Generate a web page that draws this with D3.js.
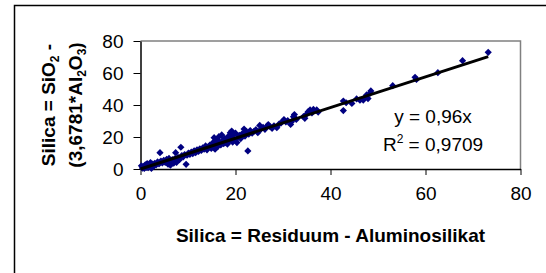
<!DOCTYPE html>
<html>
<head>
<meta charset="utf-8">
<script src="https://cdn.jsdelivr.net/npm/d3@7"></script>
<style>
  html, body { margin: 0; padding: 0; background: #fff; }
  svg { display: block; font-family: "Liberation Sans", Arial, sans-serif; }
</style>
</head>
<body>
<div id="chart"></div>
<script>
// values
var xVals = [
  0.2, 0.4, 0.6, 0.8, 1.0, 1.2, 1.4, 1.6, 1.8, 2.1, 2.3, 2.5, 2.8, 3.0, 3.3, 3.6, 3.9, 4.1, 4.3, 4.6,
  4.9, 5.2, 5.5, 5.8, 6.0, 6.3, 6.5, 6.7, 7.0, 7.2, 7.4, 7.6, 7.9, 8.2, 8.5, 8.7, 9.0, 9.3, 9.6, 9.8,
  10.1, 10.4, 10.7, 11.0, 11.3, 11.6, 11.9, 12.2, 12.5, 12.8, 13.1, 13.4, 13.7, 14.0, 14.3, 14.6, 14.9, 15.1, 15.3, 15.5,
  15.7, 15.9, 16.1, 16.3, 16.5, 16.7, 16.9, 17.1, 17.3, 17.5, 17.7, 17.9, 18.1, 18.3, 18.5, 18.7, 18.9, 19.1, 19.2, 19.4,
  19.6, 19.8, 20.0, 20.3, 20.5, 20.8, 21.1, 21.4, 21.8, 22.0, 22.3, 22.6, 22.8, 23.1, 23.5, 23.9, 24.3, 24.7, 25.1, 25.4,
  25.8, 26.2, 26.6, 26.9, 27.3, 27.7, 28.1, 28.7, 29.2, 29.6, 30.2, 30.6, 31.0, 31.6, 31.8, 32.2, 32.4, 32.8, 34.3, 34.6,
  35.0, 35.3, 35.7, 36.1, 36.4, 37.1, 37.4, 42.7, 42.7, 43.3, 44.5, 45.5, 46.2, 46.9, 47.3, 47.6, 47.9, 48.3, 48.5, 53.1,
  57.8, 58.1, 62.6, 67.8, 73.2
];
var yVals = [
  2.0, 0.6, 1.4, 0.3, 2.6, 1.0, 3.4, 0.8, 2.2, 4.0, 0.4, 3.0, 1.8, 3.6, 2.6, 4.4, 3.2, 10.2, 5.0, 3.8,
  5.4, 4.2, 6.0, 3.0, 6.6, 2.4, 4.6, 5.8, 3.6, 6.4, 10.2, 4.2, 7.2, 5.8, 13.6, 8.4, 7.6, 9.0, 2.9, 8.6,
  10.0, 9.2, 10.6, 9.6, 11.4, 10.2, 12.0, 11.0, 12.6, 11.6, 13.2, 12.4, 14.4, 12.0, 13.8, 15.0, 12.8, 14.4, 16.6, 19.6,
  12.4, 15.6, 18.0, 14.2, 20.2, 16.8, 15.0, 21.3, 17.6, 15.8, 19.0, 16.4, 18.2, 15.6, 20.4, 17.4, 22.6, 19.4, 23.7, 16.8,
  21.6, 18.4, 22.4, 16.5, 19.6, 21.0, 19.0, 22.0, 25.0, 20.6, 23.4, 11.3, 21.8, 24.0, 22.4, 23.6, 24.6, 22.7, 27.2, 25.0,
  26.0, 24.8, 26.6, 27.8, 26.4, 25.4, 27.0, 25.8, 28.2, 28.8, 30.9, 29.4, 30.2, 27.8, 29.6, 32.7, 34.0, 31.0, 32.7, 31.7,
  34.4, 35.8, 36.9, 35.0, 37.2, 36.9, 35.6, 42.5, 36.5, 41.4, 41.0, 43.8, 43.0, 43.1, 45.0, 46.3, 44.0, 47.3, 48.8, 52.1,
  57.3, 56.0, 60.2, 67.7, 72.9
];
var xTicks = [0, 20, 40, 60, 80];
var yTicks = [0, 20, 40, 60, 80];
var slope = 0.96;
var eqLines = ["y = 0,96x", "R2 = 0,9709"];

var W = 546, H = 273;
var M = { left: 140.5, right: 520.5, top: 41, bottom: 169 };
var FS = 19;

var svg = d3.select("#chart").append("svg").attr("width", W).attr("height", H);

// chart frame (runs off the right and bottom of the picture)
svg.append("rect").attr("x", 14.5).attr("y", 5.5).attr("width", 700).attr("height", 400)
  .attr("fill", "#fff").attr("stroke", "#000").attr("stroke-width", 1.5);

var x = d3.scaleLinear().domain([0, 80]).range([M.left, M.right]);
var y = d3.scaleLinear().domain([0, 80]).range([M.bottom, M.top]);

// plot area border (top/right grey)
svg.append("path")
  .attr("d", "M" + M.left + "," + M.top + "H" + M.right + "V" + M.bottom)
  .attr("fill", "none").attr("stroke", "#808080").attr("stroke-width", 1.5);

var gx = svg.append("g").attr("transform", "translate(0," + M.bottom + ")")
  .call(d3.axisBottom(x).tickValues(xTicks).tickSize(6).tickPadding(12).tickSizeOuter(0));
var gy = svg.append("g").attr("transform", "translate(" + M.left + ",0)")
  .call(d3.axisLeft(y).tickValues(yTicks).tickSize(7).tickPadding(10).tickSizeOuter(0));
[gx, gy].forEach(function (g) {
  g.select(".domain").attr("stroke", "#000").attr("stroke-width", 1.5);
  g.selectAll(".tick line").attr("stroke", "#000");
  g.selectAll("text").attr("font-size", FS).attr("font-family", "Liberation Sans, Arial, sans-serif").attr("fill", "#000");
});

// points
var diamond = d3.symbol().type(d3.symbolSquare).size(26);
svg.append("g").selectAll("path").data(xVals).join("path")
  .attr("d", diamond)
  .attr("transform", function (d, i) { return "translate(" + x(d) + "," + y(yVals[i]) + ") rotate(45)"; })
  .attr("fill", "#000080");

// linear trend through origin
var xMax = d3.max(xVals);
svg.append("line")
  .attr("x1", x(0)).attr("y1", y(0)).attr("x2", x(xMax)).attr("y2", y(slope * xMax))
  .attr("stroke", "#000").attr("stroke-width", 3);

// equation labels
var eq = svg.append("g").attr("font-size", FS).attr("fill", "#000").attr("text-anchor", "middle");
eq.append("text").attr("x", 433).attr("y", 123).text(eqLines[0]);
var r2 = eq.append("text").attr("x", 433).attr("y", 151);
r2.append("tspan").text("R");
r2.append("tspan").attr("font-size", 12).attr("dy", -8).text("2");
r2.append("tspan").attr("dy", 8).text(eqLines[1].slice(2));

// axis titles
svg.append("text").attr("x", (M.left + M.right) / 2).attr("y", 242)
  .attr("text-anchor", "middle").attr("font-weight", "bold").attr("font-size", FS)
  .text("Silica = Residuum - Aluminosilikat");

var yt = svg.append("g").attr("font-weight", "bold").attr("font-size", FS).attr("text-anchor", "middle")
  .attr("transform", "translate(0," + (M.top + M.bottom) / 2 + ") rotate(-90)");
var l1 = yt.append("text").attr("x", 0).attr("y", 55);
l1.append("tspan").text("Silica = SiO");
l1.append("tspan").attr("font-size", 12).attr("dy", 4).text("2");
l1.append("tspan").attr("dy", -4).text(" -");
var l2 = yt.append("text").attr("x", 0).attr("y", 82);
l2.append("tspan").text("(3,6781*Al");
l2.append("tspan").attr("font-size", 12).attr("dy", 4).text("2");
l2.append("tspan").attr("dy", -4).text("O");
l2.append("tspan").attr("font-size", 12).attr("dy", 4).text("3");
l2.append("tspan").attr("dy", -4).text(")");
</script>
</body>
</html>
